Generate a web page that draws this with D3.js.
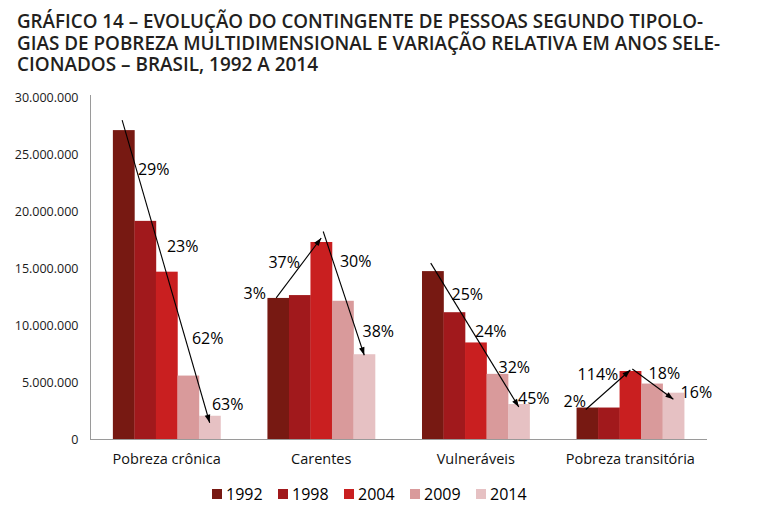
<!DOCTYPE html>
<html>
<head>
<meta charset="utf-8">
<script src="https://cdn.jsdelivr.net/npm/d3@7"></script>
<style>
  html, body { margin: 0; padding: 0; background: #fff; }
  svg { display: block; }
</style>
</head>
<body>
<script>
// ---------- DATA ----------
const titleLines = [
  "GRÁFICO 14 – EVOLUÇÃO DO CONTINGENTE DE PESSOAS SEGUNDO TIPOLO-",
  "GIAS DE POBREZA MULTIDIMENSIONAL E VARIAÇÃO RELATIVA EM ANOS SELE-",
  "CIONADOS – BRASIL, 1992 A 2014"
];
const categories = ["Pobreza crônica", "Carentes", "Vulneráveis", "Pobreza transitória"];
const years = ["1992", "1998", "2004", "2009", "2014"];
const v1992 = [27100000, 12400000, 14750000, 2800000];
const v1998 = [19150000, 12650000, 11150000, 2800000];
const v2004 = [14700000, 17300000, 8500000, 6000000];
const v2009 = [5600000, 12150000, 5750000, 4900000];
const v2014 = [2080000, 7470000, 3110000, 4100000];
const seriesValues = [v1992, v1998, v2004, v2009, v2014];
// relative variation between consecutive years, per category
const pctCronica = ["29%", "23%", "62%", "63%"];
const pctCarentes = ["3%", "37%", "30%", "38%"];
const pctVulneraveis = ["25%", "24%", "32%", "45%"];
const pctTransitoria = ["2%", "114%", "18%", "16%"];
const pctLabels = [pctCronica, pctCarentes, pctVulneraveis, pctTransitoria];
const yTicks = [0, 5000000, 10000000, 15000000, 20000000, 25000000, 30000000];
const yTickLabels = ["0", "5.000.000", "10.000.000", "15.000.000", "20.000.000", "25.000.000", "30.000.000"];

// ---------- STYLE / LAYOUT ----------
const W = 765, H = 512;
const colors = ["#771912", "#a1191c", "#c91f20", "#d99a9b", "#e6c1c3"];
const fontUI = "'Open Sans', 'Segoe UI', 'DejaVu Sans', sans-serif";
// label layout: [dx from left of bar (i+1), dy from top of bar (i+1), anchor]
const pctLayout = [
  [[3.5, -51, "start"], [11, -25, "start"], [14.5, -37, "start"], [13, -11, "start"]],
  [[-23, -2, "end"], [-42, 20, "start"], [8, -39, "start"], [9, -23, "start"]],
  [[8, -18, "start"], [10, -11, "start"], [12, -6, "start"], [10, -6, "start"]],
  [[-34.5, -6, "start"], [-42, 3, "start"], [7.5, -10, "start"], [18, 0, "start"]]
];
// arrows: [category, fromYearIdx, toYearIdx, dxFrom, dyFrom, dxTo, dyTo]
const arrows = [
  [0, 0, 4, -1.5, -10, 0, 7],
  [1, 0, 2, -2, 0, 0, -4],
  [1, 2, 4, 2, -10.5, 0, 1],
  [2, 0, 4, -2, -8, 0, 3],
  [3, 0, 2, -1.5, 2, 0, -1],
  [3, 2, 4, 2, -2, 0, 6.5]
];

const svg = d3.select("body").append("svg").attr("width", W).attr("height", H);

// title
const titleWidths = [686, 703, 301];
const titleBase = [28, 49.5, 71];
svg.append("g").selectAll("text").data(titleLines).join("text")
  .attr("x", 17)
  .attr("y", (d, i) => titleBase[i])
  .attr("textLength", (d, i) => titleWidths[i])
  .attr("lengthAdjust", "spacingAndGlyphs")
  .style("font-family", "'Open Sans', 'DejaVu Sans Condensed', sans-serif")
  .style("font-weight", "600")
  .style("font-size", "19px")
  .style("fill", "#231f20")
  .text(d => d);

// scales
const x0 = d3.scaleBand().domain(categories).range([90, 707]).paddingInner(0.304).paddingOuter(0.148);
const x1 = d3.scaleBand().domain(years).range([0, x0.bandwidth()]).padding(0);
const y = d3.scaleLinear().domain([0, 30000000]).range([439.5, 97]);

// bars
const barData = [];
categories.forEach((c, ci) => years.forEach((yr, yi) => barData.push({ c, ci, yr, yi, v: seriesValues[yi][ci] })));
svg.append("g").selectAll("rect").data(barData).join("rect")
  .attr("x", d => x0(d.c) + x1(d.yr))
  .attr("y", d => y(d.v))
  .attr("width", x1.bandwidth() + 0.3)
  .attr("height", d => y(0) - y(d.v))
  .attr("fill", d => colors[d.yi]);

// axes
const yAxis = d3.axisLeft(y).tickValues(yTicks).tickSize(0).tickPadding(12)
  .tickFormat((d, i) => yTickLabels[i]);
const gy = svg.append("g").attr("transform", "translate(90.5,0)").call(yAxis);
gy.select(".domain").attr("stroke", "#9a9a9a").attr("d", `M0,${y(30000000) - 2}V${y(0)}`);
gy.selectAll("text").style("font-family", fontUI).style("font-size", "12.5px").style("fill", "#1a1a1a");

const xAxis = d3.axisBottom(x0).tickSize(0).tickPadding(14);
const gx = svg.append("g").attr("transform", `translate(0,${y(0)})`).call(xAxis);
gx.select(".domain").attr("stroke", "#9a9a9a").attr("d", `M90,0H707`);
gx.selectAll("text").style("font-family", fontUI).style("font-size", "14.5px").style("fill", "#111");

// arrows
const defs = svg.append("defs");
defs.append("marker").attr("id", "ah").attr("viewBox", "0 0 10 10")
  .attr("refX", 10).attr("refY", 5).attr("markerWidth", 9).attr("markerHeight", 8)
  .attr("markerUnits", "userSpaceOnUse").attr("orient", "auto")
  .append("path").attr("d", "M0,1.5L10,5L0,8.5z").attr("fill", "#000");
const barCx = (ci, yi) => x0(categories[ci]) + x1(years[yi]) + x1.bandwidth() / 2;
const barTop = (ci, yi) => y(seriesValues[yi][ci]);
svg.append("g").selectAll("line").data(arrows).join("line")
  .attr("x1", d => barCx(d[0], d[1]) + d[3])
  .attr("y1", d => barTop(d[0], d[1]) + d[4])
  .attr("x2", d => barCx(d[0], d[2]) + d[5])
  .attr("y2", d => barTop(d[0], d[2]) + d[6])
  .attr("stroke", "#000").attr("stroke-width", 1.1)
  .attr("marker-end", "url(#ah)");

// percentage labels
const labData = [];
pctLabels.forEach((arr, ci) => arr.forEach((t, k) => labData.push({ ci, k, t, lay: pctLayout[ci][k] })));
svg.append("g").selectAll("text").data(labData).join("text")
  .attr("x", d => x0(categories[d.ci]) + x1(years[d.k + 1]) + d.lay[0])
  .attr("y", d => barTop(d.ci, d.k + 1) + d.lay[1])
  .attr("dy", "0.35em")
  .attr("text-anchor", d => d.lay[2])
  .style("font-family", fontUI).style("font-size", "16px").style("fill", "#000")
  .text(d => d.t);

// legend
const lg = svg.append("g").attr("transform", "translate(212,494)");
const items = lg.selectAll("g").data(years).join("g")
  .attr("transform", (d, i) => `translate(${i * 66},0)`);
items.append("rect").attr("x", 0).attr("y", -5).attr("width", 10).attr("height", 10)
  .attr("fill", (d, i) => colors[i]);
items.append("text").attr("x", 14).attr("y", 0).attr("dy", "0.35em")
  .style("font-family", fontUI).style("font-size", "16px").style("fill", "#000")
  .text(d => d);
</script>
</body>
</html>
